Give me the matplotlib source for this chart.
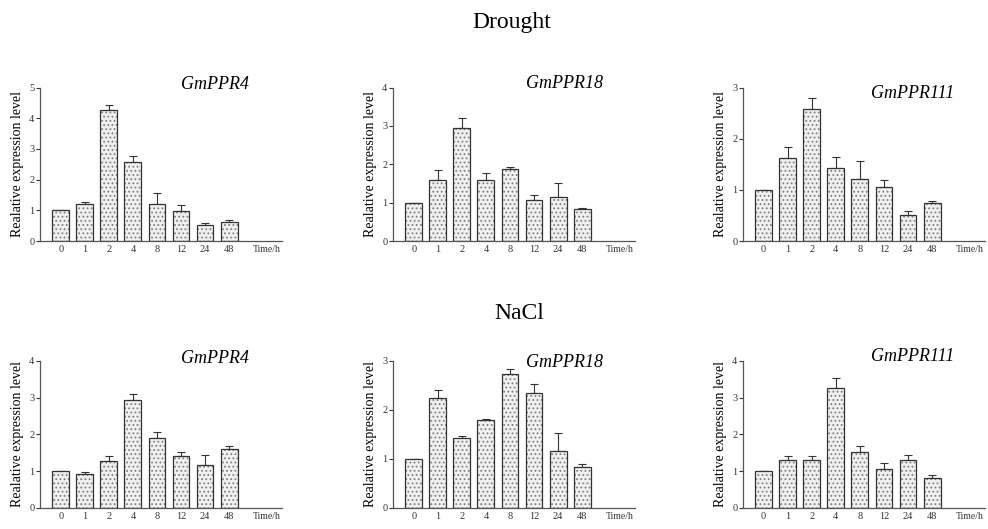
import numpy as np
import matplotlib
matplotlib.use("Agg")
import matplotlib.pyplot as plt

plt.rcParams['font.family'] = ['Liberation Serif', 'DejaVu Serif']
plt.rcParams['hatch.linewidth'] = 0.8

# time points (h)
times = ['0', '1', '2', '4', '8', '12', '24', '48']

# drought treatment: mean and upper error
drought_ppr4 = [1.00, 1.20, 4.28, 2.56, 1.22, 0.97, 0.51, 0.62]
drought_ppr4_err = [0.00, 0.07, 0.15, 0.20, 0.34, 0.22, 0.07, 0.06]
drought_ppr18 = [1.00, 1.59, 2.94, 1.58, 1.88, 1.08, 1.16, 0.84]
drought_ppr18_err = [0.00, 0.27, 0.28, 0.19, 0.04, 0.13, 0.34, 0.02]
drought_ppr111 = [1.00, 1.63, 2.58, 1.42, 1.21, 1.05, 0.51, 0.74]
drought_ppr111_err = [0.00, 0.21, 0.22, 0.23, 0.36, 0.15, 0.08, 0.05]

# NaCl treatment
nacl_ppr4 = [1.00, 0.92, 1.28, 2.93, 1.90, 1.41, 1.18, 1.60]
nacl_ppr4_err = [0.00, 0.06, 0.13, 0.16, 0.17, 0.11, 0.26, 0.09]
nacl_ppr18 = [1.00, 2.25, 1.42, 1.79, 2.73, 2.35, 1.17, 0.83]
nacl_ppr18_err = [0.00, 0.16, 0.04, 0.02, 0.11, 0.17, 0.36, 0.06]
nacl_ppr111 = [1.00, 1.30, 1.30, 3.26, 1.51, 1.07, 1.30, 0.81]
nacl_ppr111_err = [0.00, 0.11, 0.11, 0.27, 0.18, 0.15, 0.13, 0.08]

top_h = 0.29
bot_y = 0.040
bot_h = 0.3176 - bot_y

panels = [
    ('GmPPR4', drought_ppr4, drought_ppr4_err, 5, (0.0405, 0.5444, top_h), (0.723, 1.02)),
    ('GmPPR18', drought_ppr18, drought_ppr18_err, 4, (0.3978, 0.5444, top_h), (0.71, 1.03)),
    ('GmPPR111', drought_ppr111, drought_ppr111_err, 3, (0.752, 0.5444, top_h), (0.70, 0.96)),
    ('GmPPR4', nacl_ppr4, nacl_ppr4_err, 4, (0.0405, bot_y, bot_h), (0.723, 1.02)),
    ('GmPPR18', nacl_ppr18, nacl_ppr18_err, 3, (0.3978, bot_y, bot_h), (0.71, 0.99)),
    ('GmPPR111', nacl_ppr111, nacl_ppr111_err, 4, (0.752, bot_y, bot_h), (0.70, 1.03)),
]

fig = plt.figure(figsize=(9.88, 5.29), dpi=100)

for gene, vals, errs, ymax, (left, bottom, height), (tx, ty) in panels:
    ax = fig.add_axes([left, bottom, 0.245, height])
    x = np.arange(len(times))
    # dotted fill, then dark outline
    ax.bar(x, vals, width=0.7, color='#f0f0f0', edgecolor='#808080',
           hatch='....', linewidth=0, zorder=2)
    ax.bar(x, vals, width=0.7, fill=False, edgecolor='#333333',
           linewidth=0.9, zorder=3)
    ax.errorbar(x, vals, yerr=[np.zeros(len(errs)), errs], fmt='none',
                ecolor='#333333', elinewidth=0.8, capsize=3, capthick=0.8,
                zorder=1)
    ax.set_xlim(-0.86, 9.2)
    ax.set_ylim(0, ymax)
    ax.set_yticks(range(ymax + 1))
    ax.set_xticks(x)
    ax.set_xticklabels(times)
    ax.tick_params(axis='x', length=0, pad=3, labelsize=7.5, colors='#333333')
    ax.tick_params(axis='y', length=3, width=0.8, pad=1, labelsize=7.5,
                   colors='#333333', direction='out')
    for side in ['top', 'right']:
        ax.spines[side].set_visible(False)
    for side in ['left', 'bottom']:
        ax.spines[side].set_color('#555555')
        ax.spines[side].set_linewidth(0.9)
    ax.set_ylabel('Realative expression level', fontsize=10, labelpad=4)
    ax.annotate('Time/h', xy=(8.55, 0), xycoords=('data', 'axes fraction'),
                xytext=(0, -3), textcoords='offset points',
                ha='center', va='top', fontsize=7, color='#333333',
                annotation_clip=False)
    ax.text(tx, ty, gene, transform=ax.transAxes, ha='center', va='center',
            fontsize=13, style='italic')

fig.text(0.518, 0.958, 'Drought', ha='center', va='center', fontsize=17)
fig.text(0.526, 0.408, 'NaCl', ha='center', va='center', fontsize=17)

fig.savefig('out.png', dpi=100)
